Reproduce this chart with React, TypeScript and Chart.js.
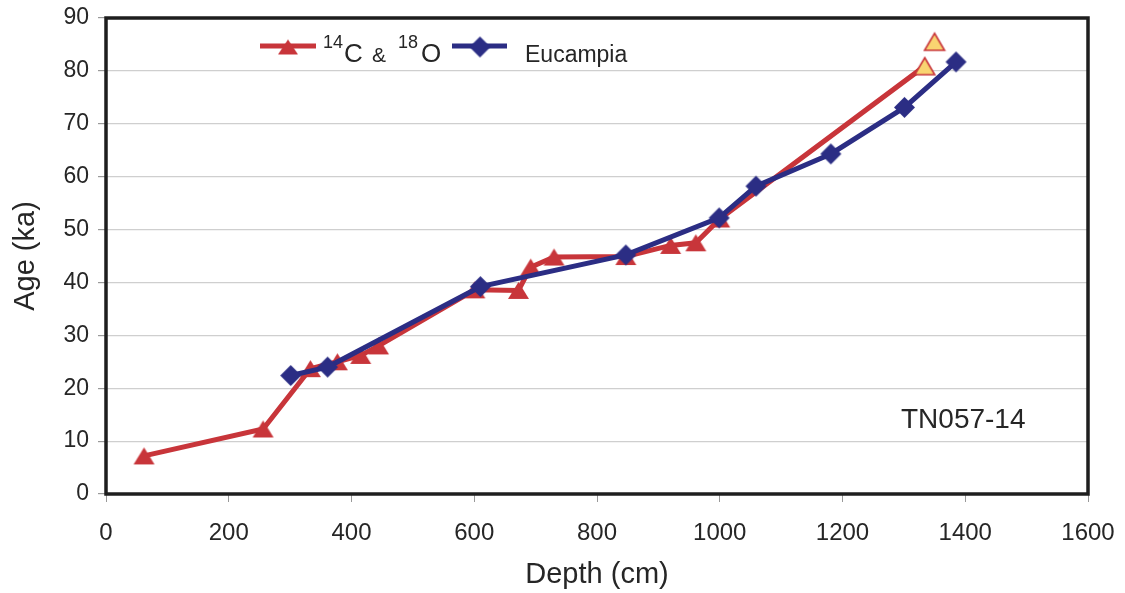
import React, { useEffect, useRef } from "react";
import { Chart, registerables } from "chart.js";

Chart.register(...registerables);

// ---- data ----
const carbonDepth = [62, 256, 333, 377, 415, 444, 601, 672, 692, 730, 847, 920, 961, 1000, 1334];
const carbonAge = [7.2, 12.3, 23.7, 25.0, 26.2, 28.0, 38.6, 38.5, 42.9, 44.8, 44.9, 47.0, 47.5, 52.0, 80.9];
const extraDepth = [1350];
const extraAge = [85.5];
const eucampiaDepth = [301, 361, 610, 847, 999, 1059, 1181, 1301, 1385];
const eucampiaAge = [22.4, 24.0, 39.2, 45.2, 52.2, 58.2, 64.3, 73.1, 81.7];
const xRange = [0, 1600];
const xStep = 200;
const yRange = [0, 90];
const yStep = 10;
const xTitle = "Depth (cm)";
const yTitle = "Age (ka)";
const coreLabel = "TN057-14";
const eucampiaName = "Eucampia";

const RED = "#C8353A";
const BLUE = "#2B2D84";
const YELLOW = "#F9D471";
const TEXT = "#262626";
const FONT = "'Liberation Sans', Arial, sans-serif";

function makeTriangle(fill: string, stroke: string | null, w: number, h: number) {
  const c = document.createElement("canvas");
  c.width = w + 4;
  c.height = h + 4;
  const ctx = c.getContext("2d")!;
  ctx.beginPath();
  ctx.moveTo(c.width / 2, 2);
  ctx.lineTo(c.width - 2, h + 2);
  ctx.lineTo(2, h + 2);
  ctx.closePath();
  ctx.fillStyle = fill;
  ctx.fill();
  if (stroke) {
    ctx.strokeStyle = stroke;
    ctx.lineWidth = 1.6;
    ctx.stroke();
  }
  return c;
}

function makeDiamond(fill: string, w: number, h: number) {
  const c = document.createElement("canvas");
  c.width = w + 2;
  c.height = h + 2;
  const ctx = c.getContext("2d")!;
  ctx.beginPath();
  ctx.moveTo(c.width / 2, 1);
  ctx.lineTo(c.width - 1, c.height / 2);
  ctx.lineTo(c.width / 2, c.height - 1);
  ctx.lineTo(1, c.height / 2);
  ctx.closePath();
  ctx.fillStyle = fill;
  ctx.fill();
  return c;
}

export default function App() {
  const ref = useRef<HTMLCanvasElement | null>(null);

  useEffect(() => {
    const canvas = ref.current;
    if (!canvas) return;
    const redTri = makeTriangle(RED, null, 21, 17);
    const yelTri = makeTriangle(YELLOW, RED, 20, 17);
    const legendTri = makeTriangle(RED, null, 20, 15);
    const diamond = makeDiamond(BLUE, 21, 21);

    const carbonPoints = carbonDepth.map((x, i) => ({ x, y: carbonAge[i] }));
    const carbonStyles = carbonDepth.map((_, i) => (i === carbonDepth.length - 1 ? yelTri : redTri));

    const framePlugin = {
      id: "frame",
      beforeDatasetsDraw(chart: any) {
        const { ctx, chartArea } = chart;
        ctx.save();
        ctx.strokeStyle = "#1E1E1E";
        ctx.lineWidth = 3.5;
        ctx.strokeRect(chartArea.left, chartArea.top, chartArea.right - chartArea.left, chartArea.bottom - chartArea.top);
        ctx.restore();
      },
      afterDraw(chart: any) {
        const { ctx } = chart;
        ctx.save();
        // legend
        ctx.strokeStyle = RED;
        ctx.lineWidth = 5;
        ctx.beginPath();
        ctx.moveTo(260, 46);
        ctx.lineTo(316, 46);
        ctx.stroke();
        ctx.drawImage(legendTri, 288 - legendTri.width / 2, 47 - legendTri.height / 2);
        ctx.fillStyle = TEXT;
        ctx.textBaseline = "alphabetic";
        ctx.textAlign = "left";
        ctx.font = `18px ${FONT}`;
        ctx.fillText("14", 323, 48);
        ctx.font = `26px ${FONT}`;
        ctx.fillText("C", 344, 62);
        ctx.font = `21px ${FONT}`;
        ctx.fillText("&", 372, 62);
        ctx.font = `18px ${FONT}`;
        ctx.fillText("18", 398, 48);
        ctx.font = `26px ${FONT}`;
        ctx.fillText("O", 421, 62);
        ctx.strokeStyle = BLUE;
        ctx.beginPath();
        ctx.moveTo(452, 46);
        ctx.lineTo(507, 46);
        ctx.stroke();
        ctx.drawImage(diamond, 480 - diamond.width / 2, 47 - diamond.height / 2);
        ctx.fillStyle = TEXT;
        ctx.font = `23px ${FONT}`;
        ctx.fillText(eucampiaName, 525, 62);
        // core label
        ctx.font = `28px ${FONT}`;
        ctx.fillText(coreLabel, 901, 428);
        ctx.restore();
      },
    };

    const chart = new Chart(canvas, {
      type: "scatter",
      data: {
        datasets: [
          {
            label: "14C & 18O",
            data: carbonPoints,
            showLine: true,
            borderColor: RED,
            borderWidth: 5,
            pointStyle: carbonStyles as any,
            pointRadius: 10,
            order: 2,
          },
          {
            label: "extra",
            data: extraDepth.map((x, i) => ({ x, y: extraAge[i] })),
            showLine: false,
            pointStyle: yelTri as any,
            pointRadius: 10,
            order: -1,
          },
          {
            label: eucampiaName,
            data: eucampiaDepth.map((x, i) => ({ x, y: eucampiaAge[i] })),
            showLine: true,
            borderColor: BLUE,
            borderWidth: 5,
            pointStyle: diamond as any,
            pointRadius: 10,
            order: 0,
          },
        ],
      },
      options: {
        animation: false,
        responsive: false,
        devicePixelRatio: 1,
        layout: { padding: { top: 18, right: 37, left: 0, bottom: 0 } },
        plugins: { legend: { display: false }, tooltip: { enabled: false } },
        scales: {
          x: {
            type: "linear",
            min: xRange[0],
            max: xRange[1],
            afterFit: (s: any) => {
              s.height = 99;
              s.paddingLeft = 0;
              s.paddingRight = 0;
            },
            ticks: {
              stepSize: xStep,
              color: TEXT,
              padding: 17,
              font: { family: FONT, size: 24 },
              callback: (v: any) => String(v),
            },
            grid: { drawOnChartArea: false, drawTicks: true, tickLength: 8, tickColor: "#999" },
            border: { display: false },
            title: {
              display: true,
              text: xTitle,
              color: TEXT,
              font: { family: FONT, size: 29 },
              padding: { top: 0, bottom: 1 },
            },
          },
          y: {
            type: "linear",
            min: yRange[0],
            max: yRange[1],
            afterFit: (s: any) => {
              s.width = 106;
              s.paddingTop = 0;
              s.paddingBottom = 0;
            },
            ticks: {
              stepSize: yStep,
              color: TEXT,
              padding: 9,
              font: { family: FONT, size: 23 },
              callback: (v: any) => String(v),
            },
            grid: { color: "#CFCFCF", lineWidth: 1.2, drawTicks: true, tickLength: 8, tickColor: "#999" },
            border: { display: false },
            title: {
              display: true,
              text: yTitle,
              color: TEXT,
              font: { family: FONT, size: 29 },
              padding: { top: 9, bottom: 0 },
            },
          },
        },
      },
      plugins: [framePlugin],
    });
    return () => chart.destroy();
  }, []);

  return (
    <div style={{ position: "fixed", left: 0, top: 0, width: 1125, height: 593, background: "#fff" }}>
      <canvas ref={ref} width={1125} height={593} style={{ display: "block" }} />
    </div>
  );
}
